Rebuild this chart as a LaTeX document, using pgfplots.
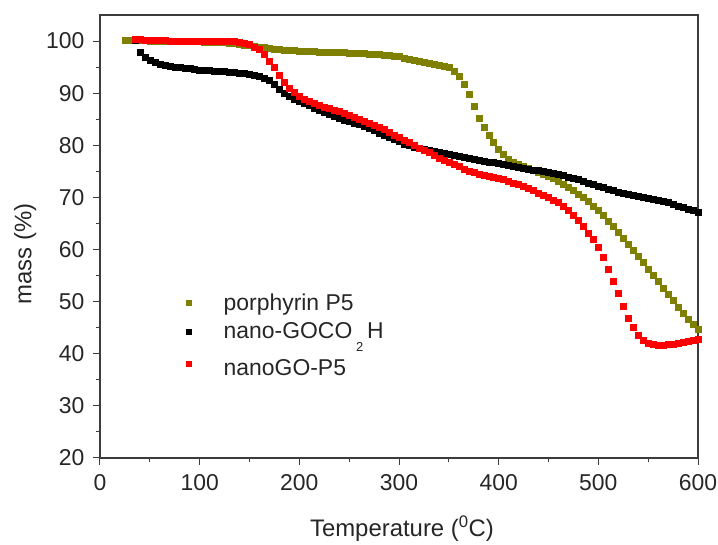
\documentclass[border=0pt]{standalone}
\usepackage{fontspec}
\setmainfont{Liberation Sans}
\usepackage{pgfplots}
\usepackage{pgfplotstable}
\pgfplotsset{compat=1.18}
\definecolor{olivep}{RGB}{128,128,0}
\definecolor{axgray}{RGB}{60,60,60}

\pgfplotstableread{
T m
25 100.2
30 100.2
35 100.1
40 100.1
45 100.1
50 100.0
55 100.0
60 100.0
65 100.0
70 100.0
75 100.0
80 99.9
85 99.9
90 99.9
95 99.9
100 99.9
105 99.8
110 99.8
115 99.8
120 99.8
125 99.7
130 99.6
135 99.5
140 99.4
145 99.3
150 99.2
155 99.1
160 98.9
165 98.8
170 98.6
175 98.5
180 98.4
185 98.3
190 98.2
195 98.2
200 98.1
205 98.1
210 98.0
215 98.0
220 97.9
225 97.9
230 97.9
235 97.8
240 97.8
245 97.8
250 97.7
255 97.7
260 97.6
265 97.6
270 97.5
275 97.5
280 97.4
285 97.3
290 97.2
295 97.1
300 97.0
305 96.8
310 96.6
315 96.4
320 96.2
325 96.0
330 95.8
335 95.6
340 95.4
345 95.2
350 94.9
355 94.3
360 93.3
365 91.8
370 89.8
375 87.5
380 85.2
385 83.5
390 81.9
395 80.5
400 79.2
405 78.2
410 77.4
415 76.8
420 76.3
425 75.9
430 75.6
435 75.3
440 74.9
445 74.5
450 74.1
455 73.6
460 73.1
465 72.5
470 71.9
475 71.3
480 70.7
485 70.0
490 69.2
495 68.4
500 67.5
505 66.5
510 65.5
515 64.4
520 63.3
525 62.2
530 61.1
535 59.9
540 58.7
545 57.5
550 56.3
555 55.1
560 53.9
565 52.6
570 51.4
575 50.2
580 49.0
585 47.8
590 46.7
595 45.7
600 44.7
}\porphyrin

\pgfplotstableread{
T m
35 100.2
40 97.8
45 96.9
50 96.4
55 96.0
60 95.6
65 95.3
70 95.1
75 95.0
80 94.9
85 94.8
90 94.7
95 94.6
100 94.5
105 94.4
110 94.4
115 94.3
120 94.3
125 94.2
130 94.1
135 94.0
140 93.9
145 93.8
150 93.6
155 93.4
160 93.2
165 92.9
170 92.5
175 91.7
180 90.7
185 89.9
190 89.4
195 88.9
200 88.4
205 88.0
210 87.6
215 87.2
220 86.8
225 86.3
230 85.9
235 85.5
240 85.2
245 84.9
250 84.6
255 84.3
260 84.0
265 83.6
270 83.2
275 82.8
280 82.4
285 82.0
290 81.6
295 81.1
300 80.7
305 80.3
310 80.0
315 79.7
320 79.5
325 79.3
330 79.1
335 78.9
340 78.7
345 78.5
350 78.3
355 78.1
360 77.9
365 77.7
370 77.5
375 77.3
380 77.1
385 77.0
390 76.8
395 76.7
400 76.5
405 76.3
410 76.1
415 75.9
420 75.8
425 75.6
430 75.5
435 75.3
440 75.2
445 75.0
450 74.8
455 74.6
460 74.4
465 74.2
470 73.9
475 73.7
480 73.4
485 73.1
490 72.8
495 72.5
500 72.2
505 71.9
510 71.6
515 71.3
520 71.0
525 70.8
530 70.6
535 70.4
540 70.2
545 70.0
550 69.8
555 69.6
560 69.4
565 69.2
570 69.0
575 68.7
580 68.4
585 68.1
590 67.8
595 67.5
600 67.2
}\nanogo

\pgfplotstableread{
T m
35 100.3
40 100.3
45 100.2
50 100.2
55 100.1
60 100.1
65 100.1
70 100.0
75 100.0
80 100.0
85 99.9
90 99.9
95 99.9
100 99.9
105 99.9
110 99.9
115 99.9
120 99.9
125 100.0
130 100.0
135 99.9
140 99.8
145 99.6
150 99.4
155 98.9
160 98.4
165 97.4
170 96.2
175 94.9
180 93.4
185 92.2
190 91.0
195 90.1
200 89.4
205 88.9
210 88.4
215 88.0
220 87.7
225 87.4
230 87.1
235 86.8
240 86.5
245 86.1
250 85.8
255 85.4
260 85.0
265 84.6
270 84.2
275 83.8
280 83.4
285 83.0
290 82.5
295 82.0
300 81.5
305 81.0
310 80.5
315 80.0
320 79.5
325 79.0
330 78.6
335 78.1
340 77.6
345 77.2
350 76.8
355 76.3
360 75.9
365 75.5
370 75.1
375 74.8
380 74.5
385 74.3
390 74.1
395 73.9
400 73.7
405 73.4
410 73.1
415 72.8
420 72.5
425 72.1
430 71.7
435 71.3
440 70.9
445 70.5
450 70.0
455 69.5
460 69.0
465 68.3
470 67.5
475 66.6
480 65.6
485 64.4
490 63.2
495 61.9
500 60.5
505 58.5
510 56.3
515 54.0
520 51.7
525 49.2
530 46.8
535 45.0
540 43.5
545 42.6
550 42.0
555 41.8
560 41.7
565 41.7
570 41.8
575 41.9
580 42.0
585 42.2
590 42.4
595 42.6
600 42.8
}\nanogop

\begin{document}
\begin{tikzpicture}
\begin{axis}[
  scale only axis,
  width=598bp, height=443bp,
  xmin=0, xmax=600, ymin=20, ymax=105,
  xtick={0,100,...,600}, ytick={20,30,...,100},
  minor x tick num=1, minor y tick num=1,
  tick pos=left, tick align=outside,
  major tick length=7bp, minor tick length=4bp,
  axis line style={axgray, line width=1.2bp},
  every tick/.style={axgray, line width=1bp},
  /pgf/number format/assume math mode=true,
  tick label style={font=\fontsize{23}{27}\selectfont, text=black!85},
  xticklabel style={yshift=-6bp},
  yticklabel style={xshift=-5bp},
  label style={font=\fontsize{24}{28}\selectfont, text=black!85},
  xlabel={Temperature (\textsuperscript{0}C)},
  ylabel={mass (\%)},
  xlabel style={at={(axis description cs:0.505,-0.16)}, anchor=center},
  ylabel style={at={(axis description cs:-0.125,0.46)}, anchor=center, rotate=0},
  legend cell align=left,
  legend style={draw=none, fill=none, inner sep=0pt,
    at={(axis description cs:0.134,0.376)}, anchor=north west,
    font=\fontsize{23}{27}\selectfont, text=black!85,
    row sep=7bp},
  legend image code/.code={\draw[mark size=2.5bp] plot coordinates {(8bp,0bp)}; \path (0bp,0bp) (41bp,0bp);},
]
\addplot[only marks, mark=square*, mark size=3bp, olivep, mark options={draw=olivep, fill=olivep}] table[x=T,y=m] {\porphyrin};
\addlegendentry{porphyrin P5}
\addplot[only marks, mark=square*, mark size=3bp, black, mark options={draw=black, fill=black}] table[x=T,y=m] {\nanogo};
\addlegendentry{nano-GOCO\,\smash{\raisebox{-13bp}{\fontsize{13}{13}\selectfont 2}}\,H}
\addplot[only marks, mark=square*, mark size=3bp, red, mark options={draw=red, fill=red}] table[x=T,y=m] {\nanogop};
\addlegendentry{\rule[-12bp]{0pt}{36bp}nanoGO-P5}
\end{axis}
\pgfresetboundingbox
\path ([shift={(-100bp,-87bp)}]current axis.south west) rectangle ([shift={(20bp,15bp)}]current axis.north east);
\end{tikzpicture}
\end{document}
